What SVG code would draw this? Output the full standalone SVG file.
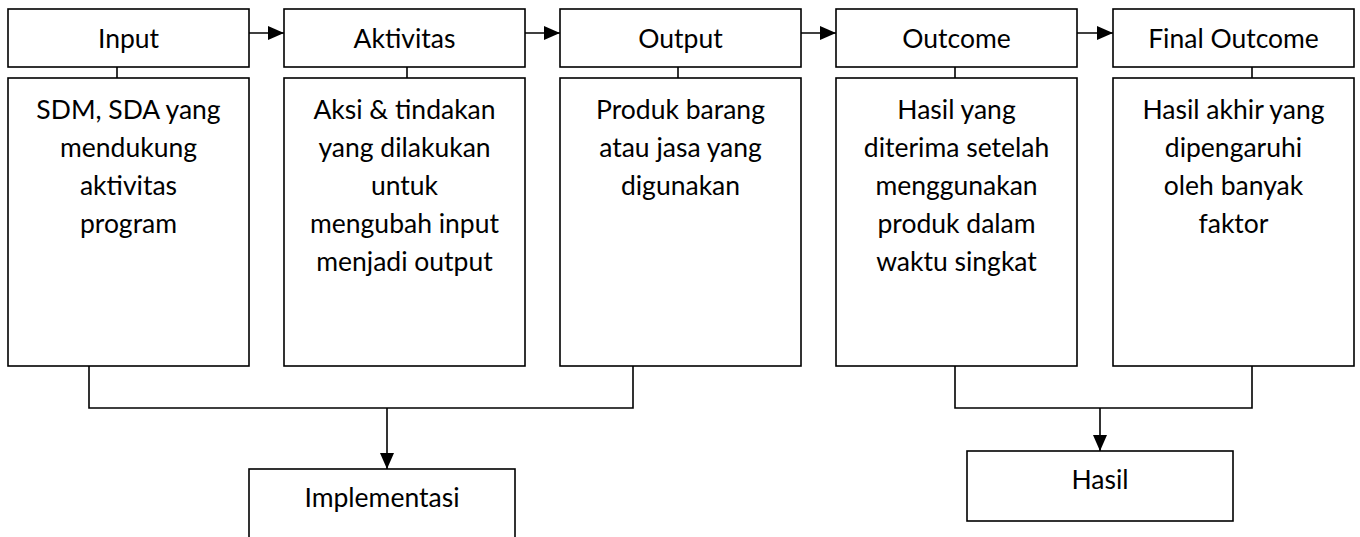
<svg xmlns="http://www.w3.org/2000/svg" width="1360" height="537" viewBox="0 0 1360 537">
<defs>
<style>
.box{fill:#fff;stroke:#000;stroke-width:1.6}
.t{font-family:Lato,"Open Sans","Liberation Sans",sans-serif;font-size:26.5px;fill:#000;text-anchor:middle}
.ln{fill:none;stroke:#000;stroke-width:1.6}
</style>
<marker id="ah" markerUnits="userSpaceOnUse" markerWidth="16" markerHeight="14" refX="16" refY="7" orient="auto">
<path d="M0,0 L16,7 L0,14 Z" fill="#000"/>
</marker>
</defs>
<rect width="1360" height="537" fill="#fff"/>
<g id="connectors">
<line class="ln" x1="249" y1="33" x2="284" y2="33" marker-end="url(#ah)"/>
<line class="ln" x1="525" y1="33" x2="560" y2="33" marker-end="url(#ah)"/>
<line class="ln" x1="801" y1="33" x2="836" y2="33" marker-end="url(#ah)"/>
<line class="ln" x1="1077" y1="33" x2="1113" y2="33" marker-end="url(#ah)"/>
<line class="ln" x1="117" y1="56" x2="117" y2="78"/>
<line class="ln" x1="407" y1="47" x2="407" y2="78"/>
<line class="ln" x1="678" y1="59" x2="678" y2="78"/>
<line class="ln" x1="955" y1="47" x2="955" y2="78"/>
<line class="ln" x1="1252" y1="59" x2="1252" y2="78"/>
<path class="ln" d="M89,366 V408 H633 V366"/>
<line class="ln" x1="387" y1="408" x2="387" y2="469" marker-end="url(#ah)"/>
<path class="ln" d="M955,366 V408 H1252 V366"/>
<line class="ln" x1="1100" y1="408" x2="1100" y2="451" marker-end="url(#ah)"/>
</g>
<g id="input">
<rect class="box" x="8" y="9" width="241" height="58"/>
<text class="t" x="128.5" y="48">Input</text>
</g>
<g id="input-desc">
<rect class="box" x="8" y="78" width="241" height="288"/>
<text class="t" x="128.5" y="119">SDM, SDA yang</text>
<text class="t" x="128.5" y="157">mendukung</text>
<text class="t" x="128.5" y="195">aktivitas</text>
<text class="t" x="128.5" y="233">program</text>
</g>
<g id="aktivitas">
<rect class="box" x="284" y="9" width="241" height="58"/>
<text class="t" x="404.5" y="48">Aktivitas</text>
</g>
<g id="aktivitas-desc">
<rect class="box" x="284" y="78" width="241" height="288"/>
<text class="t" x="404.5" y="119">Aksi &amp; tindakan</text>
<text class="t" x="404.5" y="157">yang dilakukan</text>
<text class="t" x="404.5" y="195">untuk</text>
<text class="t" x="404.5" y="233">mengubah input</text>
<text class="t" x="404.5" y="271">menjadi output</text>
</g>
<g id="output">
<rect class="box" x="560" y="9" width="241" height="58"/>
<text class="t" x="680.5" y="48">Output</text>
</g>
<g id="output-desc">
<rect class="box" x="560" y="78" width="241" height="288"/>
<text class="t" x="680.5" y="119">Produk barang</text>
<text class="t" x="680.5" y="157">atau jasa yang</text>
<text class="t" x="680.5" y="195">digunakan</text>
</g>
<g id="outcome">
<rect class="box" x="836" y="9" width="241" height="58"/>
<text class="t" x="956.5" y="48">Outcome</text>
</g>
<g id="outcome-desc">
<rect class="box" x="836" y="78" width="241" height="288"/>
<text class="t" x="956.5" y="119">Hasil yang</text>
<text class="t" x="956.5" y="157">diterima setelah</text>
<text class="t" x="956.5" y="195">menggunakan</text>
<text class="t" x="956.5" y="233">produk dalam</text>
<text class="t" x="956.5" y="271">waktu singkat</text>
</g>
<g id="final-outcome">
<rect class="box" x="1113" y="9" width="241" height="58"/>
<text class="t" x="1233.5" y="48">Final Outcome</text>
</g>
<g id="final-outcome-desc">
<rect class="box" x="1113" y="78" width="241" height="288"/>
<text class="t" x="1233.5" y="119">Hasil akhir yang</text>
<text class="t" x="1233.5" y="157">dipengaruhi</text>
<text class="t" x="1233.5" y="195">oleh banyak</text>
<text class="t" x="1233.5" y="233">faktor</text>
</g>
<g id="implementasi">
<rect class="box" x="249" y="469" width="266" height="80"/>
<text class="t" x="382" y="507">Implementasi</text>
</g>
<g id="hasil">
<rect class="box" x="967" y="451" width="266" height="70"/>
<text class="t" x="1100" y="489">Hasil</text>
</g>
</svg>
